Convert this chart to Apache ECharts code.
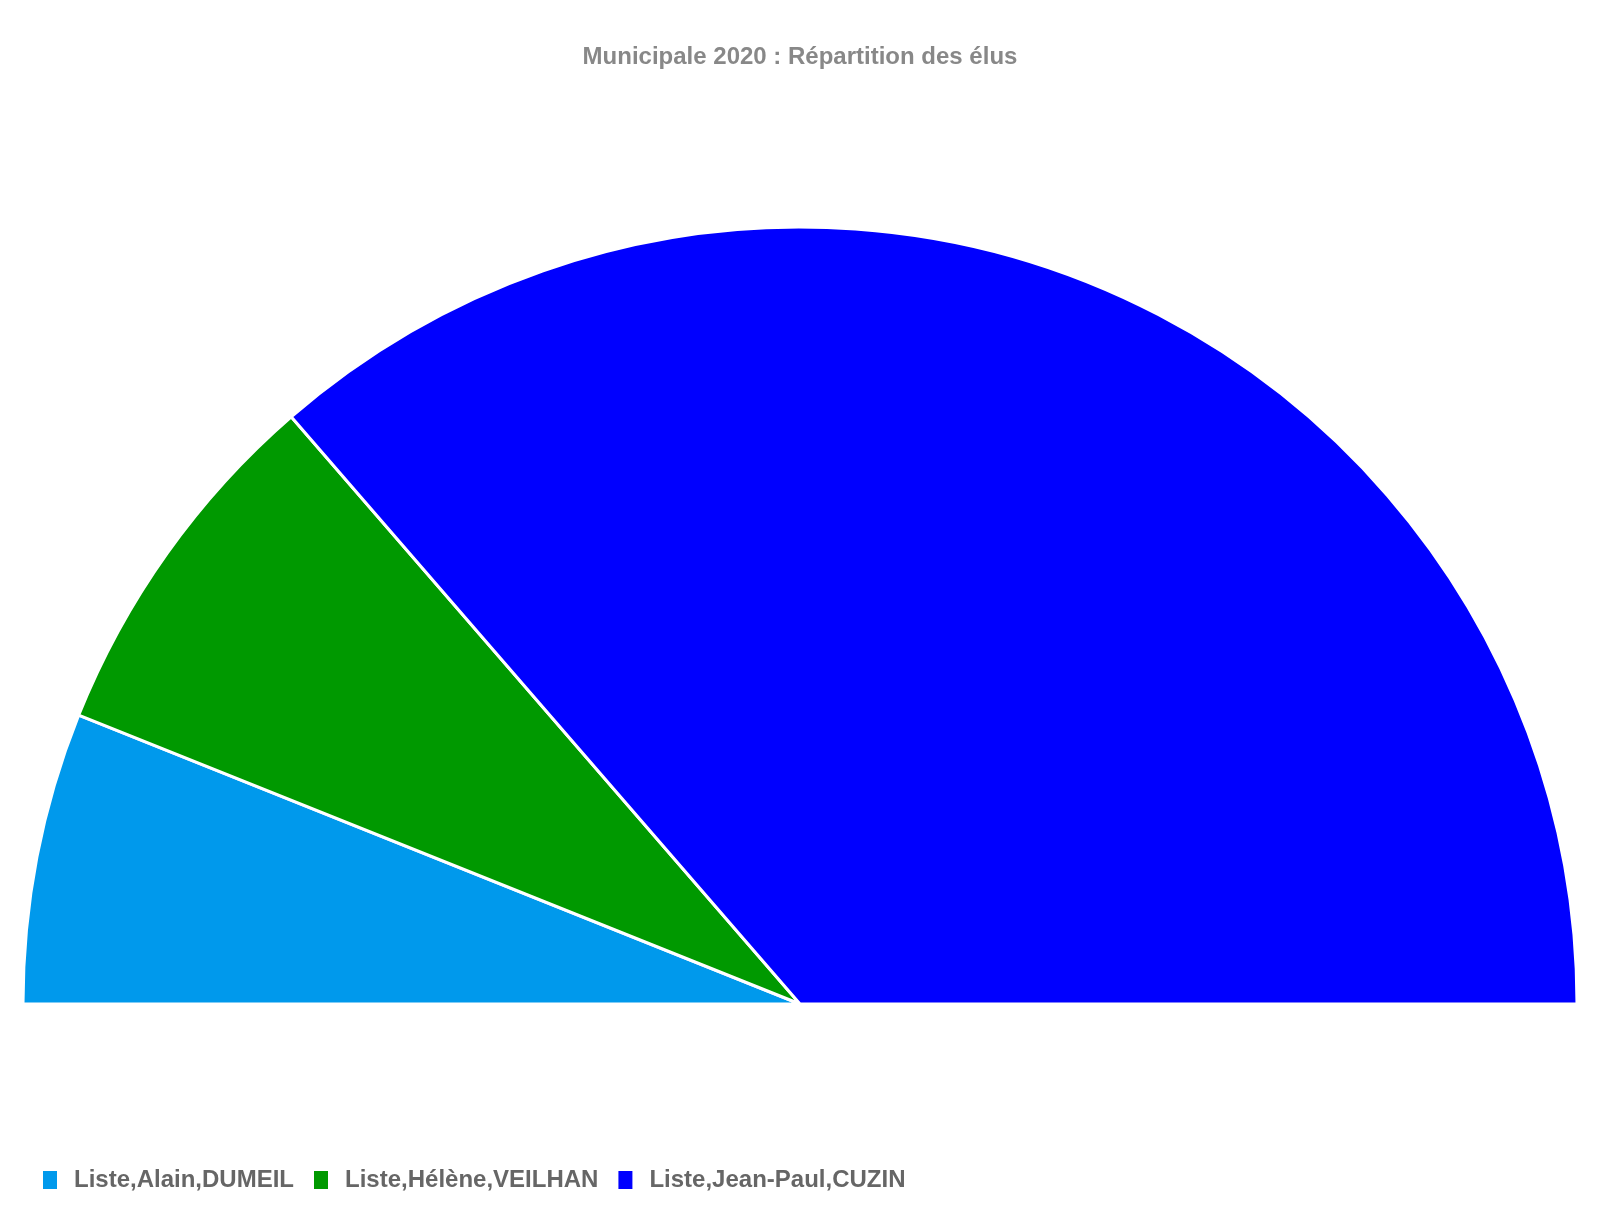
<!DOCTYPE html>
<html>
<head>
<meta charset="utf-8">
<script src="https://cdn.jsdelivr.net/npm/echarts@6/dist/echarts.min.js"></script>
<style>
html,body{margin:0;padding:0;background:#fff;}
#chart{width:1600px;height:1230px;}
</style>
</head>
<body>
<div id="chart"></div>
<script>
const titleText = 'Municipale 2020 : Répartition des élus';
const categories = ['Liste,Alain,DUMEIL', 'Liste,Hélène,VEILHAN', 'Liste,Jean-Paul,CUZIN'];
const seats = [4, 5, 24];
const colors = ['#0099ec', '#009900', '#0000ff'];

const chart = echarts.init(document.getElementById('chart'), null, {renderer: 'canvas'});
chart.setOption({
  animation: false,
  backgroundColor: '#ffffff',
  color: colors,
  title: {
    text: titleText,
    left: 'center',
    top: 40,
    textStyle: {
      fontFamily: '"Liberation Sans", Arial, sans-serif',
      fontWeight: 'bold',
      fontSize: 24,
      color: '#888888'
    }
  },
  legend: {
    data: categories,
    left: 38,
    top: 1163,
    orient: 'horizontal',
    icon: 'rect',
    itemWidth: 14,
    itemHeight: 18,
    itemGap: 20,
    itemStyle: {borderWidth: 0},
    textStyle: {
      fontFamily: '"Liberation Sans", Arial, sans-serif',
      fontWeight: 'bold',
      fontSize: 24,
      color: '#666666',
      padding: [0, 0, 0, 12]
    }
  },
  series: [{
    type: 'pie',
    center: [800, 1004],
    radius: [0, 777],
    startAngle: 180,
    endAngle: 0,
    clockwise: true,
    label: {show: false},
    labelLine: {show: false},
    emphasis: {disabled: true},
    itemStyle: {borderColor: '#ffffff', borderWidth: 3},
    data: categories.map((name, i) => ({name: name, value: seats[i]}))
  }]
});
</script>
</body>
</html>
